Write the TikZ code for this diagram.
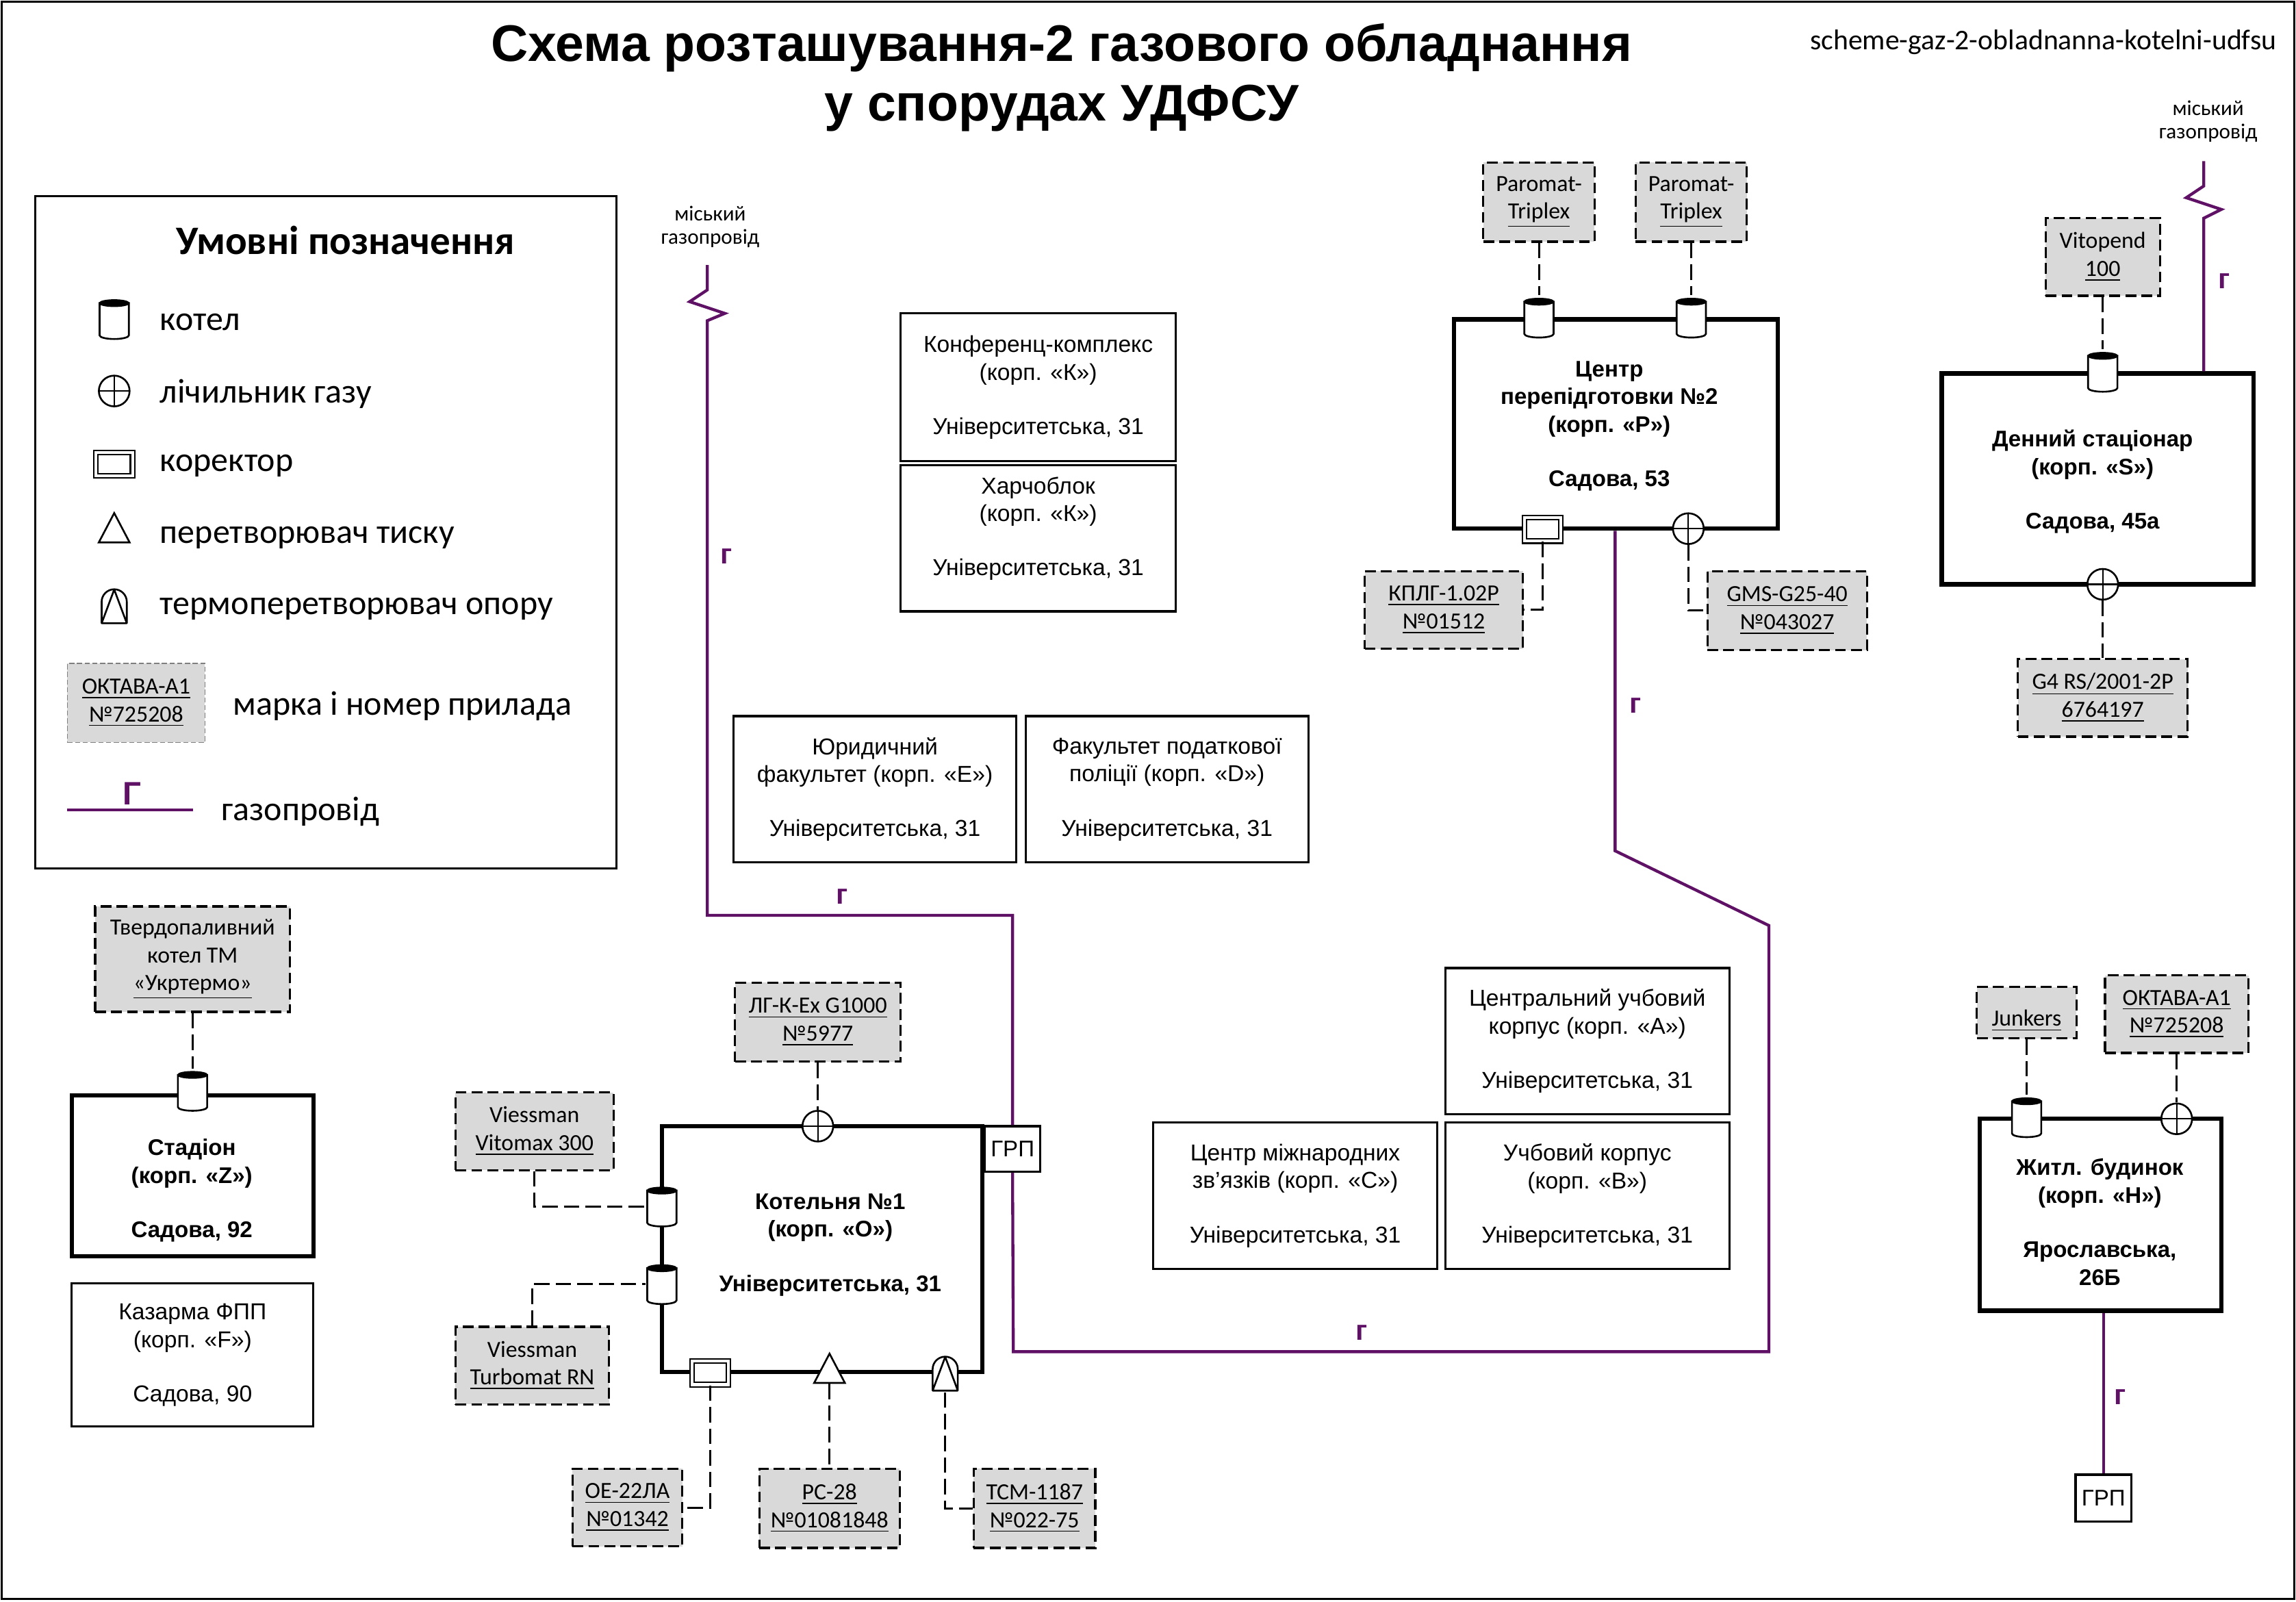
\documentclass[tikz,border=0pt]{standalone}
\usepackage{fontspec}
\setmainfont{Liberation Sans}
\newfontfamily\calfont{Carlito}
\usetikzlibrary{shapes.geometric, positioning}
\definecolor{gasdraw}{HTML}{5F1166}
\definecolor{devfill}{HTML}{D9D9D9}
\definecolor{devdraw}{HTML}{7F7F7F}
\tikzset{
  lift/.style={execute at begin node={\rule{0pt}{12.5pt}}},
  blk/.style={rectangle, draw=black, fill=white, line width=0.85pt, align=center, inner sep=0pt, lift, font=\fontsize{8.95}{10.8}\selectfont},
  wall/.style={rectangle, draw=black, fill=white, line width=1.7pt, inner sep=0pt},
  wtxt/.style={align=center, inner sep=0pt, lift, font=\fontsize{8.8}{10.8}\selectfont\bfseries},
  btxt/.style={align=center, inner sep=0pt, lift, font=\fontsize{8.95}{10.8}\selectfont},
  dev/.style={rectangle, draw=black, fill=devfill, line width=0.85pt, dash pattern=on 4.2pt off 2pt, align=center, inner sep=0pt, lift, font=\calfont\fontsize{9}{10.8}\selectfont},
  link/.style={line width=0.8pt, draw=black, dash pattern=on 6pt off 2.4pt},
  gas/.style={line width=1.15pt, draw=gasdraw},
  gaslab/.style={font=\fontsize{11}{12}\selectfont\bfseries, text=gasdraw, inner sep=0pt},
  city/.style={align=center, inner sep=0pt, font=\calfont\fontsize{8.3}{9}\selectfont},
  grp/.style={rectangle, draw=black, fill=white, line width=0.9pt, inner sep=0pt, minimum width=0.76cm, minimum height=0.62cm, font=\fontsize{8.8}{10}\selectfont},
  boiler/.style={rectangle, inner sep=0pt, minimum width=0.44cm, minimum height=0.6cm,
    path picture={\draw[line width=0.7pt, fill=white, shift={(path picture bounding box.center)}] (-10,-11) -- (-10,11) arc[start angle=180, end angle=0, x radius=10, y radius=2.5] -- (10,-11) -- cycle;
      \draw[line width=0.5pt, fill=black, shift={(path picture bounding box.center)}] (0,-11) ellipse[x radius=10, y radius=2.2];}},
  meter/.style={circle, draw=black, fill=white, line width=0.7pt, inner sep=0pt, minimum size=0.42cm,
    path picture={\draw[line width=0.6pt] (path picture bounding box.north) -- (path picture bounding box.south) (path picture bounding box.west) -- (path picture bounding box.east);}},
  corr/.style={rectangle, draw=black, fill=white, line width=0.55pt, double=white, double distance=1.1pt, inner sep=0pt, minimum width=0.5cm, minimum height=0.32cm},
  press/.style={isosceles triangle, isosceles triangle stretches, shape border rotate=90, draw=black, fill=white, line width=0.7pt, inner sep=0pt, minimum width=0.42cm, minimum height=0.4cm},
  thermo/.style={rectangle, inner sep=0pt, minimum width=0.38cm, minimum height=0.5cm,
    path picture={\draw[line width=0.7pt, line join=round, fill=white, shift={(path picture bounding box.center)}] (-8.6,11.6) -- (-8.6,-3) arc[start angle=180, end angle=360, radius=8.6] -- (8.6,11.6) -- cycle (-8.6,11.6) -- (0,-11.4) -- (8.6,11.6);}},
  legtxt/.style={anchor=west, inner sep=0pt, font=\calfont\fontsize{13.3}{15}\selectfont},
}

\begin{document}
\begin{tikzpicture}[x=0.02cm, y=-0.02cm]
  \useasboundingbox (0,0) rectangle (1568,1093.5);
  \draw[line width=0.8pt] (1,1) rectangle (1567,1092);

  % title
  \node[align=center, inner sep=0pt, font=\fontsize{20}{23.2}\selectfont\bfseries] (title) at (725,53) {Схема розташування-2 газового обладнання\\у спорудах УДФСУ};
  \node[anchor=east, inner sep=0pt, font=\calfont\fontsize{11.1}{12}\selectfont] (fname) at (1555,29) {scheme-gaz-2-obladnanna-kotelni-udfsu};

  % legend
  \node[rectangle, draw=black, line width=0.85pt, minimum width=7.94cm, minimum height=9.18cm] (leg) at (222.5,363.5) {};
  \node[inner sep=0pt, font=\calfont\fontsize{15.7}{17}\selectfont\bfseries] (legt) at (236,164) {Умовні позначення};
  \node[boiler] (lboil) at (78,218) {};
  \node[meter] (lmet) at (78,267) {};
  \node[corr] (lcorr) at (78,317) {};
  \node[press] (lpress) at (78,364) {};
  \node[thermo] (lthermo) at (78,414) {};
  \node[legtxt] (t1) at (109,220) {котел};
  \node[legtxt] (t2) at (109,269) {лічильник газу};
  \node[legtxt] (t3) at (109,318) {коректор};
  \node[legtxt] (t4) at (109,367) {перетворювач тиску};
  \node[legtxt] (t5) at (109,416) {термоперетворювач опору};
  \node[dev, draw=devdraw, line width=0.4pt, dash pattern=on 2pt off 1pt, minimum width=1.88cm, minimum height=1.08cm] (ldev) at (93,480) {\underline{ОКТАВА-А1}\\\underline{№725208}};
  \node[legtxt] (t6) at (159,482) {марка і номер прилада};
  \coordinate (la) at (46,553);
  \coordinate (lb) at (132,553);
  \draw[gas] (la) -- (lb);
  \node[gaslab, font=\fontsize{12.6}{14}\selectfont\bfseries] (lg) at (90,542) {Г};
  \node[legtxt] (t7) at (151,554) {газопровід};

  % thin buildings
  \node[blk, minimum width=3.76cm, minimum height=2.02cm] (konf) at (709,264.5) {Конференц-комплекс\\(корп. «К»)\\[10.3pt]Університетська, 31};
  \node[rectangle, draw=black, fill=white, line width=0.85pt, minimum width=3.76cm, minimum height=2cm, below=0.02cm of konf] (harch) {};
  \node[btxt] (harchtxt) at (709,361) {Харчоблок\\(корп. «К»)\\[10.3pt]Університетська, 31};
  \node[blk, minimum width=3.86cm, minimum height=2cm] (yur) at (597.5,539) {Юридичний\\факультет (корп. «Е»)\\[10.3pt]Університетська, 31};
  \node[blk, minimum width=3.86cm, minimum height=2cm, right=0.1cm of yur] (podat) {Факультет податкової\\поліції (корп. «D»)\\[10.3pt]Університетська, 31};
  \node[blk, minimum width=3.88cm, minimum height=2cm] (corpa) at (1084,711) {Центральний учбовий\\корпус (корп. «А»)\\[10.3pt]Університетська, 31};
  \node[blk, minimum width=3.88cm, minimum height=2cm, below=0.08cm of corpa] (corpb) {Учбовий корпус\\(корп. «В»)\\[10.3pt]Університетська, 31};
  \node[blk, minimum width=3.88cm, minimum height=2cm, left=0.08cm of corpb] (corpc) {Центр міжнародних\\зв’язків (корп. «С»)\\[10.3pt]Університетська, 31};

  % thick buildings
  \node[wall, minimum width=3.3cm, minimum height=2.2cm] (stad) at (131.5,803) {};
  \node[wtxt] (stadtxt) at (131,813) {Стадіон\\(корп. «Z»)\\[10.3pt]Садова, 92};
  \node[blk, minimum width=3.3cm, minimum height=1.96cm, below=0.32cm of stad] (kaz) {Казарма ФПП\\(корп. «F»)\\[10.3pt]Садова, 90};
  \node[wall, minimum width=4.38cm, minimum height=3.36cm] (kot) at (561.5,853) {};
  \node[wtxt] (kottxt) at (567,850) {Котельня №1\\(корп. «О»)\\[10.3pt]Університетська, 31};
  \node[wall, minimum width=4.42cm, minimum height=2.86cm] (cper) at (1103.5,289.5) {};
  \node[wtxt] (cpertxt) at (1099,291) {Центр\\перепідготовки №2\\(корп. «Р»)\\[10.3pt]Садова, 53};
  \node[wall, minimum width=4.26cm, minimum height=2.88cm] (denn) at (1432.5,327) {};
  \node[wtxt] (denntxt) at (1429,329) {Денний стаціонар\\(корп. «S»)\\[10.3pt]Садова, 45а};
  \node[wall, minimum width=3.3cm, minimum height=2.62cm] (zhyt) at (1434.5,829.5) {};
  \node[wtxt] (zhyttxt) at (1434,834.5) {Житл. будинок\\(корп. «Н»)\\[10.3pt]Ярославська,\\26Б};

  % grp
  \node[grp] (grpa) at (691.5,784.5) {ГРП};
  \node[grp, minimum height=0.64cm] (grpb) at (1436.5,1023) {ГРП};

  % device boxes
  \node[dev, minimum width=2.66cm, minimum height=1.44cm] (tm) at (131.5,655) {Твердопаливний\\котел ТМ\\\underline{«Укртермо»}};
  \node[dev, minimum width=2.26cm, minimum height=1.08cm] (lgk) at (558.5,698) {\underline{ЛГ-К-Ex G1000}\\\underline{№5977}};
  \node[dev, minimum width=2.16cm, minimum height=1.06cm] (vmax) at (365,772.5) {Viessman\\\underline{Vitomax 300}};
  \node[dev, minimum width=2.1cm, minimum height=1.06cm] (vturb) at (363.5,932.5) {Viessman\\\underline{Turbomat RN}};
  \node[dev, minimum width=1.5cm, minimum height=1.06cm] (oe) at (428.5,1029.5) {\underline{ОЕ-22ЛА}\\\underline{№01342}};
  \node[dev, minimum width=1.92cm, minimum height=1.08cm] (rs) at (566.5,1030) {\underline{РС-28}\\\underline{№01081848}};
  \node[dev, minimum width=1.66cm, minimum height=1.08cm] (tsm) at (706.5,1030) {\underline{ТСМ-1187}\\\underline{№022-75}};
  \node[dev, minimum width=1.52cm, minimum height=1.08cm] (para) at (1051,138) {Paromat-\\\underline{Triplex}};
  \node[dev, minimum width=1.52cm, minimum height=1.08cm] (parb) at (1155,138) {Paromat-\\\underline{Triplex}};
  \node[dev, minimum width=2.16cm, minimum height=1.06cm] (kplg) at (986,416.5) {\underline{КПЛГ-1.02Р}\\\underline{№01512}};
  \node[dev, minimum width=2.18cm, minimum height=1.08cm] (gms) at (1220.5,417) {\underline{GMS-G25-40}\\\underline{№043027}};
  \node[dev, minimum width=1.56cm, minimum height=1.06cm] (vitop) at (1436,175.5) {Vitopend\\\underline{100}};
  \node[dev, minimum width=2.32cm, minimum height=1.06cm] (gfour) at (1436,476.5) {\underline{G4 RS/2001-2P}\\\underline{6764197}};
  \node[dev, minimum width=1.36cm, minimum height=0.7cm] (junk) at (1384,691.5) {\underline{Junkers}};
  \node[dev, minimum width=1.96cm, minimum height=1.06cm] (okt) at (1486.5,692.5) {\underline{ОКТАВА-А1}\\\underline{№725208}};

  % symbols on the walls
  \node[boiler] (bstad) at (131.5,745) {};
  \node[meter] (mkot) at (558.5,769) {};
  \node[boiler] (bkota) at (452,824) {};
  \node[boiler] (bkotb) at (452,877) {};
  \node[corr] (ckot) at (485,937.5) {};
  \node[press] (pkot) at (566.5,938) {};
  \node[thermo] (tkot) at (645.5,938) {};
  \node[boiler] (bpera) at (1051,217) {};
  \node[boiler] (bperb) at (1155,217) {};
  \node[corr] (cpr) at (1053.5,361.5) {};
  \node[meter] (mper) at (1153,361) {};
  \node[boiler] (bden) at (1436,254) {};
  \node[meter] (mden) at (1436,399) {};
  \node[boiler] (bzhy) at (1384,763) {};
  \node[meter] (mzhy) at (1486.5,764) {};

  % dashed links
  \draw[link] (tm.south) -- (bstad.north);
  \draw[link] (lgk.south) -- (mkot.north);
  \draw[link] (vmax.south) |- (bkota.west);
  \draw[link] (vturb.north) |- (bkotb.west);
  \draw[link] (ckot.south) |- (oe.east);
  \draw[link] (pkot.south) -- (rs.north);
  \draw[link] (tkot.south) |- (tsm.west);
  \draw[link] (para.south) -- (bpera.north);
  \draw[link] (parb.south) -- (bperb.north);
  \draw[link] (cpr.south) |- (kplg.east);
  \draw[link] (mper.south) |- (gms.west);
  \draw[link] (vitop.south) -- (bden.north);
  \draw[link] (mden.south) -- (gfour.north);
  \draw[link] (junk.south) -- (bzhy.north);
  \draw[link] (okt.south) -- (mzhy.north);

  % gas lines
  \coordinate (gasa) at (483,181);
  \coordinate (gasb) at (483,625);
  \coordinate (gasc) at (692,923);
  \coordinate (gasd) at (1208,923);
  \coordinate (gase) at (1208,632);
  \coordinate (gasf) at (1103,581);
  \coordinate (gasg) at (1505,110);
  \draw[gas] (gasa) -- ++(0,17) -- ++(-12,8) -- ++(24,8) -- ++(-12,5) -- (gasb) -| (grpa.north);
  \draw[gas] (grpa.south) -- (gasc) -- (gasd) -- (gase) -- (gasf) -- (gasf |- cper.south);
  \draw[gas] (gasg) -- ++(0,17) -- ++(-12,8) -- ++(24,8) -- ++(-12,6) -- (gasg |- denn.north);
  \draw[gas] (grpb.north) -- (grpb.north |- zhyt.south);
  \node[gaslab] (ga) at (496,380) {г};
  \node[gaslab] (gb) at (575,612) {г};
  \node[gaslab] (gc) at (930,910) {г};
  \node[gaslab] (gd) at (1117,482) {г};
  \node[gaslab] (ge) at (1519,192) {г};
  \node[gaslab] (gf) at (1448,954) {г};
  \node[city] (citya) at (485,155) {міський\\газопровід};
  \node[city] (cityb) at (1508,83) {міський\\газопровід};
\end{tikzpicture}
\end{document}
